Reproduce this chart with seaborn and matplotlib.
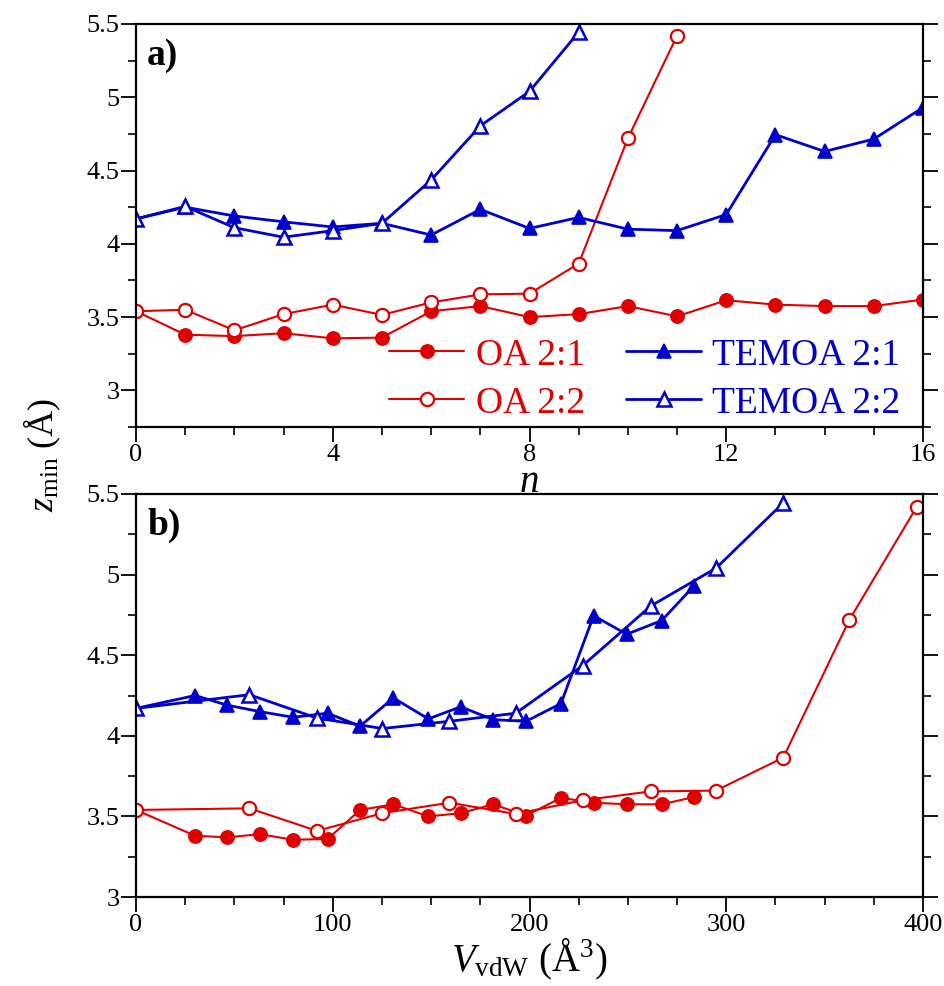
import numpy as np
import matplotlib
matplotlib.use("Agg")
import matplotlib.pyplot as plt
import seaborn as sns
from matplotlib.ticker import MultipleLocator

# ---------------- data ----------------
n_oa21 = list(range(17))
n_oa22 = list(range(12))
n_te21 = list(range(17))
n_te22 = list(range(10))

z_oa21 = [3.54, 3.38, 3.37, 3.39, 3.355, 3.36, 3.54, 3.575, 3.50, 3.52, 3.575,
          3.505, 3.615, 3.585, 3.575, 3.575, 3.62]
z_oa22 = [3.54, 3.55, 3.41, 3.52, 3.585, 3.515, 3.60, 3.655, 3.66, 3.865, 4.72, 5.42]
z_te21 = [4.17, 4.25, 4.19, 4.15, 4.115, 4.14, 4.06, 4.235, 4.105, 4.18, 4.10,
          4.09, 4.20, 4.745, 4.63, 4.715, 4.93]
z_te22 = [4.17, 4.255, 4.11, 4.045, 4.09, 4.14, 4.435, 4.805, 5.04, 5.445]

# van der Waals volume of substituent for 2:1 and 2:2 complexes
v_21 = [0, 30.0, 46.4, 63.0, 79.8, 97.4, 113.9, 130.8, 148.6, 165.0, 181.6,
        198.2, 216.0, 232.6, 249.4, 267.2, 283.6]
v_22 = [0, 57.6, 92.0, 125.2, 159.3, 193.0, 227.0, 261.6, 294.8, 329.0, 362.6, 396.8]

labels = ["OA 2:1", "OA 2:2", "TEMOA 2:1", "TEMOA 2:2"]
a_xticks = [0, 4, 8, 12, 16]
b_xticks = [0, 100, 200, 300, 400]
yticks = [3, 3.5, 4, 4.5, 5, 5.5]
ytick_labels = ["3", "3.5", "4", "4.5", "5", "5.5"]

# ---------------- style ----------------
sns.set_theme(style="ticks")
plt.rcParams["font.family"] = ["Liberation Serif", "DejaVu Sans"]
plt.rcParams["mathtext.fontset"] = "custom"
plt.rcParams["mathtext.rm"] = "Liberation Serif"
plt.rcParams["mathtext.it"] = "Liberation Serif:italic"
plt.rcParams["mathtext.bf"] = "Liberation Serif:bold"
plt.rcParams["text.color"] = "black"
plt.rcParams["axes.labelcolor"] = "black"
plt.rcParams["xtick.color"] = "black"
plt.rcParams["ytick.color"] = "black"

RED = "#E00000"
BLUE = "#0000CC"

fig = plt.figure(figsize=(9.44, 9.86), dpi=100)
L, W, H = 136 / 944, 787 / 944, 403 / 986
ax_a = fig.add_axes([L, 1 - 427 / 986, W, H])
ax_b = fig.add_axes([L, 1 - 897 / 986, W, H])
ax_a.set_zorder(2)
ax_b.set_zorder(1)


def draw(ax, x21, x22):
    common = dict(ax=ax, sort=False, legend=False)
    sns.lineplot(x=x21[:len(z_oa21)], y=z_oa21, color=RED, marker="o",
                 markersize=9.5, markerfacecolor=RED, markeredgecolor=RED,
                 markeredgewidth=1.2, linewidth=1.5, label=labels[0], **common)
    sns.lineplot(x=x22[:len(z_oa22)], y=z_oa22, color=RED, marker="o",
                 markersize=9.5, markerfacecolor="white", markeredgecolor=RED,
                 markeredgewidth=1.6, linewidth=1.5, label=labels[1], **common)
    sns.lineplot(x=x21[:len(z_te21)], y=z_te21, color=BLUE, marker="^",
                 markersize=10, markerfacecolor=BLUE, markeredgecolor=BLUE,
                 markeredgewidth=1.2, linewidth=2.0, label=labels[2], **common)
    sns.lineplot(x=x22[:len(z_te22)], y=z_te22, color=BLUE, marker="^",
                 markersize=10, markerfacecolor="white", markeredgecolor=BLUE,
                 markeredgewidth=1.8, linewidth=2.0, label=labels[3], **common)


draw(ax_a, n_oa21, n_oa21)
draw(ax_b, v_21, v_22)

for ax in (ax_a, ax_b):
    ax.set_yticks(yticks)
    ax.set_yticklabels(ytick_labels)
    ax.yaxis.set_minor_locator(MultipleLocator(0.25))
    ax.tick_params(which="both", direction="out", left=True, right=True,
                   bottom=True, top=False, labelright=False, labelsize=19,
                   colors="black", pad=1)
    ax.tick_params(which="major", length=11, width=1.3)
    ax.tick_params(which="minor", length=6, width=1.2)
    for s in ax.spines.values():
        s.set_linewidth(1.6)
        s.set_color("black")
    ax.set_ylabel("")

ax_a.set_xlim(0, 16)
ax_a.set_ylim(2.75, 5.5)
ax_a.set_xticks(a_xticks)
ax_a.xaxis.set_minor_locator(MultipleLocator(1))
ax_a.set_xlabel("n", fontsize=28, fontstyle="italic", labelpad=-1)

ax_b.set_xlim(0, 400)
ax_b.set_ylim(3, 5.5)
ax_b.set_xticks(b_xticks)
ax_b.xaxis.set_minor_locator(MultipleLocator(25))
ax_b.set_xlabel(r"$V_{\mathrm{vdW}}$ (Å$^{3}$)", fontsize=28, labelpad=1)

ax_a.text(0.014, 0.965, "a)", transform=ax_a.transAxes, ha="left", va="top",
          fontsize=27, fontweight="bold")
ax_b.text(0.014, 0.965, "b)", transform=ax_b.transAxes, ha="left", va="top",
          fontsize=27, fontweight="bold")

fig.text(0.045, 0.5385, r"$z_{\mathrm{min}}$ (Å)", rotation=90, ha="center",
         va="center", fontsize=26)

leg = ax_a.legend(ncol=2, loc="lower right", bbox_to_anchor=(1.0, -0.04),
                  frameon=False, fontsize=27, handlelength=2.0,
                  handletextpad=0.3, columnspacing=1.1, labelspacing=0.36,
                  labelcolor="linecolor", borderaxespad=0.2)

fig.savefig("out.png", dpi=100)
